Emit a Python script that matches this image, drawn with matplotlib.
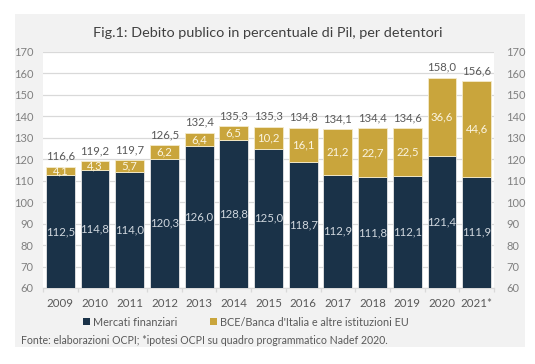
import matplotlib
matplotlib.use("Agg")
import matplotlib.pyplot as plt
from matplotlib.patches import Rectangle, Patch
import numpy as np

plt.rcParams['font.family'] = ['Lato', 'DejaVu Sans']

years = ['2009', '2010', '2011', '2012', '2013', '2014', '2015', '2016', '2017', '2018', '2019', '2020', '2021*']
mercati = [112.5, 114.8, 114.0, 120.3, 126.0, 128.8, 125.0, 118.7, 112.9, 111.8, 112.1, 121.4, 111.9]
bce = [4.1, 4.3, 5.7, 6.2, 6.4, 6.5, 10.2, 16.1, 21.2, 22.7, 22.5, 36.6, 44.6]
totals = [116.6, 119.2, 119.7, 126.5, 132.4, 135.3, 135.3, 134.8, 134.1, 134.4, 134.6, 158.0, 156.6]
yticks = list(range(60, 171, 10))

title = "Fig.1: Debito publico in percentuale di Pil, per detentori"
leg_labels = ["Mercati finanziari", "BCE/Banca d'Italia e altre istituzioni EU"]
source = "Fonte: elaborazioni OCPI; *ipotesi OCPI su quadro programmatico Nadef 2020."

DARK = '#1A3248'
GOLD = '#C9A53C'
GRAY_TXT = '#595959'
TICK_TXT = '#808080'

def fmt(v):
    return f"{v:.1f}".replace('.', ',')

W, H = 535, 364
fig = plt.figure(figsize=(W / 100, H / 100), dpi=100)
fig.patch.set_facecolor('white')
fig.patches.append(Rectangle((15 / W, 1 - 347 / H), (525 - 15) / W, (347 - 14) / H,
                             transform=fig.transFigure, facecolor='#F2F2F2',
                             edgecolor='none', zorder=-10))

ax = fig.add_axes([43 / W, 1 - 288 / H, (494 - 43) / W, (288 - 52) / H])
ax.set_facecolor('white')
x = np.arange(len(years))
ymin, ymax = 60, 170
ax.bar(x, mercati, width=0.83, color=DARK, edgecolor='#E8E8E8', linewidth=0.6, zorder=3)
ax.bar(x, bce, bottom=mercati, width=0.83, color=GOLD, edgecolor='#F4EBCB', linewidth=0.6, zorder=3)
ax.set_ylim(ymin, ymax)
ax.set_xlim(-0.5, len(years) - 0.5)

for i in range(len(years)):
    lo = max(ymin, 0)
    ax.text(x[i], (lo + mercati[i]) / 2, fmt(mercati[i]), ha='center', va='center',
            color='#D0D7DE', fontsize=8.2, zorder=4)
    ax.text(x[i], mercati[i] + bce[i] / 2, fmt(bce[i]), ha='center', va='center',
            color='#FBF5E2', fontsize=8.2, zorder=4)
    ax.annotate(fmt(totals[i]), (x[i], mercati[i] + bce[i]), xytext=(0, 3.5),
                textcoords='offset points', ha='center', va='bottom',
                color=GRAY_TXT, fontsize=8.2, zorder=4)

ax.set_yticks(yticks)
ax.yaxis.grid(True, color='#D9D9D9', linewidth=0.9, zorder=0)
ax.set_axisbelow(True)
for s in ['top', 'right', 'left']:
    ax.spines[s].set_visible(False)
ax.spines['bottom'].set_color('#D9D9D9')
ax.spines['bottom'].set_linewidth(0.9)
ax.set_xticks(x)
ax.set_xticklabels(years)
ax.set_xticks(np.arange(-0.5, len(years), 1), minor=True)
ax.tick_params(axis='x', which='major', length=0, pad=7, labelsize=8.3, labelcolor=GRAY_TXT)
ax.tick_params(axis='x', which='minor', length=3, color='#D9D9D9', width=0.9)
ax.tick_params(axis='y', length=0, pad=7, labelsize=8.0, labelcolor=TICK_TXT)

ax2 = ax.twinx()
ax2.set_ylim(ymin, ymax)
ax2.set_yticks(yticks)
for s in ax2.spines.values():
    s.set_visible(False)
ax2.tick_params(axis='y', length=0, pad=9, labelsize=8.0, labelcolor=TICK_TXT)

fig.text(0.5, 1 - 33 / H, title, ha='center', va='center', fontsize=10.4, color='#404040')

handles = [Patch(facecolor=DARK, edgecolor='none'), Patch(facecolor=GOLD, edgecolor='none')]
fig.legend(handles, leg_labels, loc='center', bbox_to_anchor=(246 / W, 1 - 322 / H), ncol=2,
           frameon=False, fontsize=7.8, handlelength=0.6, handleheight=0.6,
           handletextpad=0.3, columnspacing=3.0, labelcolor=GRAY_TXT)

fig.text(21 / W, 1 - 341 / H, source, ha='left', va='center', fontsize=7.6, color=GRAY_TXT)

fig.savefig('out.png', dpi=100, facecolor='white')
